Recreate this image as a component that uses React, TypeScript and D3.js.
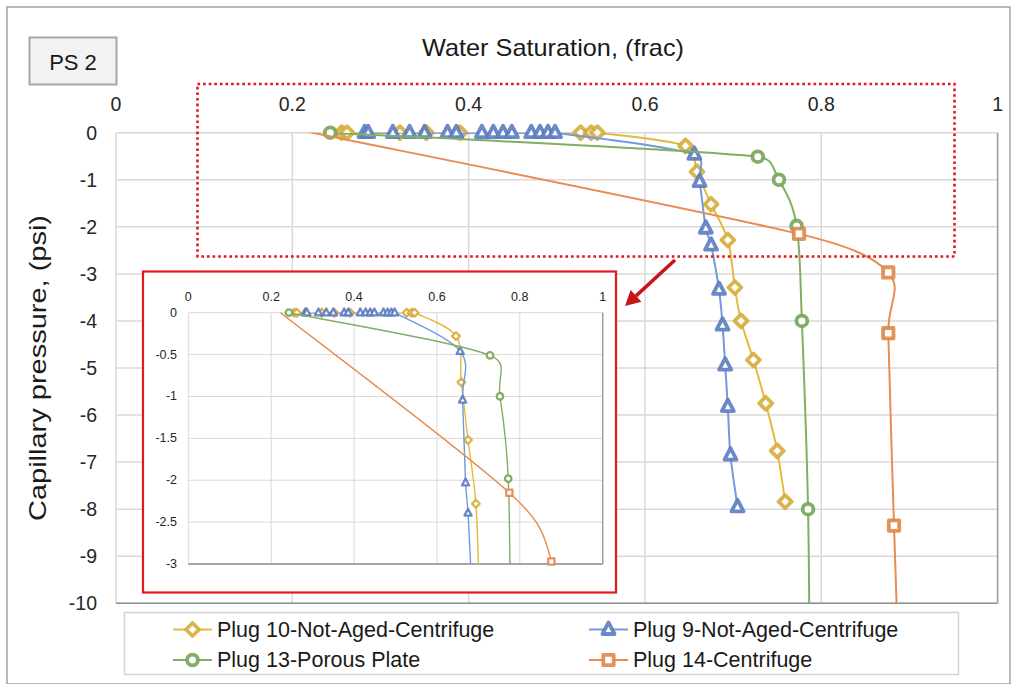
import React from "react";
import * as d3 from "d3";

// ---------- data ----------
const xTicks = [0, 0.2, 0.4, 0.6, 0.8, 1];
const xTickLabels = ["0", "0.2", "0.4", "0.6", "0.8", "1"];
const yTicks = [0, -1, -2, -3, -4, -5, -6, -7, -8, -9, -10];
const insetYTicks = [0, -0.5, -1, -1.5, -2, -2.5, -3];
const insetYTickLabels = ["0", "-0.5", "-1", "-1.5", "-2", "-2.5", "-3"];

const plug10Sw = [0.256, 0.262, 0.322, 0.352, 0.39, 0.527, 0.539, 0.546, 0.646, 0.659, 0.675, 0.694, 0.702, 0.709, 0.723, 0.737, 0.75, 0.759];
const plug10Pc = [0, 0, 0, 0, 0, 0, 0, 0, -0.28, -0.83, -1.52, -2.28, -3.29, -4.0, -4.83, -5.75, -6.76, -7.84];

const plug9Sw = [0.282, 0.286, 0.314, 0.333, 0.35, 0.376, 0.386, 0.415, 0.428, 0.439, 0.449, 0.471, 0.481, 0.49, 0.498, 0.656, 0.662, 0.669, 0.675, 0.684, 0.688, 0.691, 0.694, 0.697, 0.705];
const plug9Pc = [0, 0, 0, 0, 0, 0, 0, 0, 0, 0, 0, 0, 0, 0, 0, -0.46, -1.04, -2.03, -2.39, -3.33, -4.09, -4.94, -5.82, -6.85, -7.95];

const plug13Sw = [0.243, 0.728, 0.752, 0.772, 0.778, 0.785, 0.787];
const plug13Pc = [0, -0.51, -1.0, -1.98, -4.0, -8.0, -12];

const plug14Sw = [0.2, 0.7747, 0.876, 0.876, 0.8825, 0.889];
const plug14Pc = [0.085, -2.15, -2.97, -4.26, -8.35, -12];

const seriesNames = ["Plug 10-Not-Aged-Centrifuge", "Plug 9-Not-Aged-Centrifuge", "Plug 13-Porous Plate", "Plug 14-Centrifuge"];
// ---------- styles ----------
type Shape = "diamond" | "triangle" | "circle" | "square";
const series = [
  { name: seriesNames[0], sw: plug10Sw, pc: plug10Pc, shape: "diamond" as Shape, line: "#E3BA3E", mark: "#D5AA34" },
  { name: seriesNames[1], sw: plug9Sw, pc: plug9Pc, shape: "triangle" as Shape, line: "#7399E0", mark: "#5879BF" },
  { name: seriesNames[2], sw: plug13Sw, pc: plug13Pc, shape: "circle" as Shape, line: "#80AE63", mark: "#72A352" },
  { name: seriesNames[3], sw: plug14Sw, pc: plug14Pc, shape: "square" as Shape, line: "#E88C50", mark: "#DE8444" },
];

const FONT = "'Liberation Sans', Arial, sans-serif";

// Excel-like smoothed line: Catmull-Rom tangents (1/6) with control arms limited to half the segment length
function smoothPath(pts: [number, number][]) {
  const p = d3.path();
  const n = pts.length;
  if (!n) return "";
  p.moveTo(pts[0][0], pts[0][1]);
  const tan = (i: number): [number, number] => {
    const a = pts[Math.max(0, i - 1)], b = pts[Math.min(n - 1, i + 1)];
    return [(b[0] - a[0]) / 6, (b[1] - a[1]) / 6];
  };
  const clamp = (t: [number, number], segLen: number): [number, number] => {
    const l = Math.hypot(t[0], t[1]);
    const m = 0.5 * segLen;
    if (l > m && l > 0) return [(t[0] * m) / l, (t[1] * m) / l];
    return t;
  };
  for (let i = 0; i < n - 1; i++) {
    const a = pts[i], b = pts[i + 1];
    const seg = Math.hypot(b[0] - a[0], b[1] - a[1]);
    const t1 = clamp(tan(i), seg);
    const t2 = clamp(tan(i + 1), seg);
    p.bezierCurveTo(a[0] + t1[0], a[1] + t1[1], b[0] - t2[0], b[1] - t2[1], b[0], b[1]);
  }
  return p.toString();
}

function Marker({ shape, x, y, color, scale }: { shape: Shape; x: number; y: number; color: string; scale: number }) {
  const sw = 3.8 * scale;
  const common = { fill: "#fff", stroke: color, strokeWidth: sw, strokeOpacity: 0.88, strokeLinejoin: "round" } as any;
  if (shape === "diamond") {
    const s = 6.5 * scale;
    return <path transform={`translate(${x},${y})`} d={`M0,${-s}L${s},0L0,${s}L${-s},0Z`} {...common} />;
  }
  if (shape === "triangle") {
    const w = 6 * scale, t = 7 * scale, b = 4.5 * scale;
    return <path transform={`translate(${x},${y})`} d={`M0,${-t}L${w},${b}L${-w},${b}Z`} {...common} />;
  }
  if (shape === "circle") {
    return <circle cx={x} cy={y} r={5.4 * scale} {...common} />;
  }
  const s = 5.2 * scale;
  return <rect x={x - s} y={y - s} width={2 * s} height={2 * s} {...common} />;
}

function Plot({ id, xr, yr, yDomain, ticksY, ticksYLabels, fontSize, scale, lineW, xLabelY, yLabelX }: any) {
  const x = d3.scaleLinear().domain([0, 1]).range(xr);
  const y = d3.scaleLinear().domain(yDomain).range(yr);
  const [x0, x1] = xr;
  const [yb, yt] = yr;
  const inRange = (v: number, p: number) => v >= 0 && v <= 1 && p >= yDomain[0] - 1e-9 && p <= yDomain[1] + 1e-9;
  return (
    <g>
      <defs>
        <clipPath id={id}>
          <rect x={x0} y={yt} width={x1 - x0} height={yb - yt} />
        </clipPath>
      </defs>
      {xTicks.map((t) => (
        <line key={"gx" + t} x1={x(t)} x2={x(t)} y1={yt} y2={yb} stroke="#d9d9d9" strokeWidth={scale > 0.8 ? 1.5 : 1} />
      ))}
      {ticksY.map((t: number) => (
        <line key={"gy" + t} x1={x0} x2={x1} y1={y(t)} y2={y(t)} stroke="#d9d9d9" strokeWidth={scale > 0.8 ? 1.5 : 1} />
      ))}
      <line x1={x0} x2={x1} y1={yb} y2={yb} stroke="#8f8f8f" strokeWidth={1.5} />
      <line x1={x1} x2={x1} y1={yt} y2={yb} stroke="#a0a0a0" strokeWidth={1.5} />
      {xTicks.map((t, i) => (
        <text key={"tx" + t} x={x(t)} y={xLabelY} textAnchor="middle" dominantBaseline="central" fontSize={fontSize} fontFamily={FONT} fill="#262626">
          {xTickLabels[i]}
        </text>
      ))}
      {ticksY.map((t: number, i: number) => (
        <text key={"ty" + t} x={yLabelX} y={y(t)} textAnchor="end" dominantBaseline="central" fontSize={fontSize} fontFamily={FONT} fill="#262626">
          {ticksYLabels[i]}
        </text>
      ))}
      {series.map((s) => {
        const pts = s.sw.map((v, i) => [v, s.pc[i]] as [number, number]);
        const px = pts.map((d) => [x(d[0]), y(d[1])] as [number, number]);
        return (
          <g key={s.name}>
            <path d={smoothPath(px)} fill="none" stroke={s.line} strokeWidth={lineW} clipPath={`url(#${id})`} />
            {pts
              .filter((p) => inRange(p[0], p[1]))
              .map((p, i) => (
                <Marker key={i} shape={s.shape} x={x(p[0])} y={y(p[1])} color={s.mark} scale={scale} />
              ))}
          </g>
        );
      })}
    </g>
  );
}

export default function App() {
  const W = 1016, H = 684;
  // arrow geometry
  const ax0 = 675, ay0 = 260, ax1 = 625, ay1 = 306;
  const dx = ax1 - ax0, dy = ay1 - ay0, len = Math.hypot(dx, dy);
  const ux = dx / len, uy = dy / len;
  const hl = 15, hw = 8;
  const bx = ax1 - ux * hl, by = ay1 - uy * hl;
  const head = `M${ax1},${ay1}L${bx - uy * hw},${by + ux * hw}L${bx + uy * hw},${by - ux * hw}Z`;

  const legendRows = [
    [0, 1],
    [2, 3],
  ];
  const colLine = [[173, 212], [589, 628]];
  const colText = [217, 633];
  const rowY = [629.5, 660];

  return (
    <svg width={W} height={H} style={{ position: "absolute", left: 0, top: 0, background: "#fff" }} fontFamily={FONT}>
      <rect x={0} y={0} width={W} height={H} fill="#fff" />
      <rect x={7} y={7} width={1003} height={677} fill="none" stroke="#8a8a8a" strokeWidth={1.2} />

      {/* PS 2 label box */}
      <rect x={29.5} y={37.5} width={87} height={47} fill="#f2f2f2" stroke="#a6a6a6" strokeWidth={2} />
      <text x={73} y={62} textAnchor="middle" dominantBaseline="central" fontSize={22} fill="#1a1a1a">PS 2</text>

      {/* title + axis title */}
      <text x={553} y={47} textAnchor="middle" dominantBaseline="central" fontSize={24} fill="#1a1a1a" textLength={262} lengthAdjust="spacingAndGlyphs">
        Water Saturation, (frac)
      </text>
      <text
        transform="translate(37,368) rotate(-90)"
        textAnchor="middle"
        dominantBaseline="central"
        fontSize={24}
        fill="#1a1a1a"
        textLength={306}
        lengthAdjust="spacingAndGlyphs"
      >
        Capillary pressure, (psi)
      </text>

      {/* main plot */}
      <Plot
        id="clipMain"
        xr={[116, 997.6]}
        yr={[603.3, 132.7]}
        yDomain={[-10, 0]}
        ticksY={yTicks}
        ticksYLabels={yTicks.map((t) => String(t))}
        fontSize={19.5}
        scale={1}
        lineW={2}
        xLabelY={104}
        yLabelX={97}
      />

      {/* red dotted highlight */}
      <rect x={197.5} y={84} width={757} height={172.5} fill="none" stroke="#e3141c" strokeWidth={2.6} strokeDasharray="2.6 3" />

      {/* inset */}
      <rect x={143} y={271.5} width={473} height={321} fill="#fff" stroke="#e31a1c" strokeWidth={2.2} />
      <Plot
        id="clipInset"
        xr={[188.3, 602.7]}
        yr={[564, 312.7]}
        yDomain={[-3, 0]}
        ticksY={insetYTicks}
        ticksYLabels={insetYTickLabels}
        fontSize={12.5}
        scale={0.6}
        lineW={1.4}
        xLabelY={297}
        yLabelX={177}
      />

      {/* arrow */}
      <line x1={ax0} y1={ay0} x2={bx} y2={by} stroke="#c9141a" strokeWidth={3.5} />
      <path d={head} fill="#c9141a" />

      {/* legend */}
      <rect x={124.5} y={612.5} width={834} height={62} fill="#fff" stroke="#d4d4d4" strokeWidth={1.5} />
      {legendRows.map((row, r) =>
        row.map((si, c) => {
          const s = series[si];
          const cx = (colLine[c][0] + colLine[c][1]) / 2;
          return (
            <g key={si}>
              <line x1={colLine[c][0]} x2={colLine[c][1]} y1={rowY[r]} y2={rowY[r]} stroke={s.line} strokeWidth={2} />
              <Marker shape={s.shape} x={cx} y={rowY[r]} color={s.mark} scale={1} />
              <text x={colText[c]} y={rowY[r]} dominantBaseline="central" fontSize={21.5} fill="#1a1a1a">
                {s.name}
              </text>
            </g>
          );
        })
      )}
    </svg>
  );
}
